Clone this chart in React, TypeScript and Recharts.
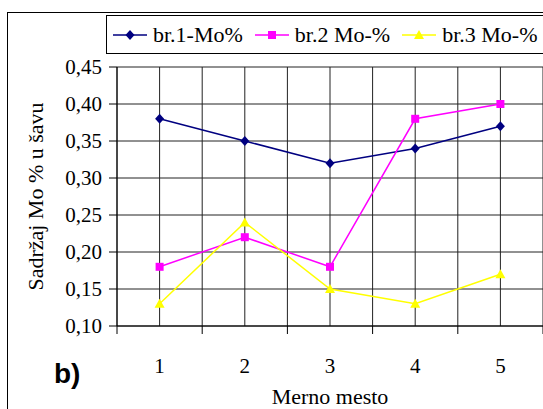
import React from 'react';
import { LineChart, Line, XAxis, YAxis, CartesianGrid } from 'recharts';

const categories = [1, 2, 3, 4, 5];
const br1 = [0.38, 0.35, 0.32, 0.34, 0.37];
const br2 = [0.18, 0.22, 0.18, 0.38, 0.4];
const br3 = [0.13, 0.24, 0.15, 0.13, 0.17];
const yTicks = [0.1, 0.15, 0.2, 0.25, 0.3, 0.35, 0.4, 0.45];
// category centres plus the boundaries between them
const xTicks = [0.5, 1, 1.5, 2, 2.5, 3, 3.5, 4, 4.5, 5, 5.5];

const SERIES = [
  { key: 'br1', name: 'br.1-Mo%', color: '#000080', shape: 'diamond' },
  { key: 'br2', name: 'br.2 Mo-%', color: '#FF00FF', shape: 'square' },
  { key: 'br3', name: 'br.3 Mo-%', color: '#FFFF00', shape: 'triangle' },
];

const data = categories.map((c, i) => ({ x: c, br1: br1[i], br2: br2[i], br3: br3[i] }));

const SERIF = 'Liberation Serif';

function Marker({ cx, cy, shape, color }: { cx: number; cy: number; shape: string; color: string }) {
  if (shape === 'diamond') {
    return <polygon points={`${cx},${cy - 5} ${cx + 4.5},${cy} ${cx},${cy + 5} ${cx - 4.5},${cy}`} fill={color} />;
  }
  if (shape === 'square') {
    return <rect x={cx - 4} y={cy - 4} width={8} height={8} fill={color} />;
  }
  return <polygon points={`${cx},${cy - 5} ${cx + 5},${cy + 4} ${cx - 5},${cy + 4}`} fill={color} />;
}

const XTick = (props: any) => {
  const { x, payload } = props;
  const v = payload.value;
  if (Number.isInteger(v)) {
    return (
      <text x={x} y={373} textAnchor="middle" style={{ fontFamily: SERIF, fontSize: 21 }} fill="#000">
        {v}
      </text>
    );
  }
  return <line x1={x} x2={x} y1={326} y2={334} stroke="#000" />;
};

const YTick = (props: any) => {
  const { x, y, payload } = props;
  return (
    <text x={x} y={y + 7} textAnchor="end" style={{ fontFamily: SERIF, fontSize: 21 }} fill="#000">
      {payload.value.toFixed(2).replace('.', ',')}
    </text>
  );
};

export default function App() {
  return (
    <div style={{ position: 'absolute', left: 0, top: 0, width: 543, height: 409, overflow: 'hidden', background: '#fff', fontFamily: SERIF }}>
      {/* outer frame */}
      <div style={{ position: 'absolute', left: 7, top: 12, width: 700, height: 600, border: '1px solid #000' }} />
      <LineChart
        width={543}
        height={409}
        data={data}
        margin={{ top: 67, right: 0, bottom: 0, left: 0 }}
        style={{ position: 'absolute', left: 0, top: 0, fontFamily: SERIF }}
      >
        <CartesianGrid stroke="#222" strokeWidth={1} />
        <XAxis
          dataKey="x"
          type="number"
          domain={[0.5, 5.5]}
          ticks={xTicks}
          interval={0}
          height={83}
          tickLine={false}
          tickSize={0}
          tick={<XTick />}
          axisLine={{ stroke: '#000' }}
          label={{
            content: (p: any) => (
              <text x={p.viewBox.x + p.viewBox.width / 2} y={404} textAnchor="middle" style={{ fontFamily: SERIF, fontSize: 22 }} fill="#000">
                Merno mesto
              </text>
            ),
          }}
        />
        <YAxis
          type="number"
          domain={[0.1, 0.45]}
          ticks={yTicks}
          interval={0}
          width={117}
          tickSize={8}
          tickMargin={7}
          tick={<YTick />}
          tickLine={{ stroke: '#000' }}
          axisLine={{ stroke: '#000' }}
          label={{
            content: (p: any) => {
              const cy = p.viewBox.y + p.viewBox.height / 2;
              return (
                <text
                  transform={`translate(43, ${cy}) rotate(-90)`}
                  textAnchor="middle"
                  style={{ fontFamily: SERIF, fontSize: 22 }}
                  fill="#000"
                >
                  Sadržaj Mo % u šavu
                </text>
              );
            },
          }}
        />
        {SERIES.map((s) => (
          <Line
            key={s.key}
            dataKey={s.key}
            name={s.name}
            stroke={s.color}
            strokeWidth={1.5}
            isAnimationActive={false}
            dot={(p: any) => <Marker key={`${s.key}-${p.index}`} cx={p.cx} cy={p.cy} shape={s.shape} color={s.color} />}
            activeDot={false}
          />
        ))}
      </LineChart>
      {/* legend */}
      <div
        style={{
          position: 'absolute',
          left: 106,
          top: 15,
          width: 600,
          height: 37,
          border: '1px solid #000',
          background: '#fff',
          display: 'flex',
          alignItems: 'center',
          fontFamily: SERIF,
          fontSize: 22,
        }}
      >
        {SERIES.map((s, i) => (
          <div key={s.key} style={{ display: 'flex', alignItems: 'center', marginLeft: i === 0 ? 6 : 12 }}>
            <svg width={34} height={14} style={{ marginRight: 6 }}>
              <line x1={0} x2={34} y1={7} y2={7} stroke={s.color} strokeWidth={1.5} />
              <Marker cx={17} cy={7} shape={s.shape} color={s.color} />
            </svg>
            <span>{s.name}</span>
          </div>
        ))}
      </div>
      <div
        style={{
          position: 'absolute',
          left: 54,
          top: 357,
          fontFamily: 'Liberation Sans',
          fontWeight: 'bold',
          fontSize: 28,
          lineHeight: '34px',
        }}
      >
        b)
      </div>
    </div>
  );
}
